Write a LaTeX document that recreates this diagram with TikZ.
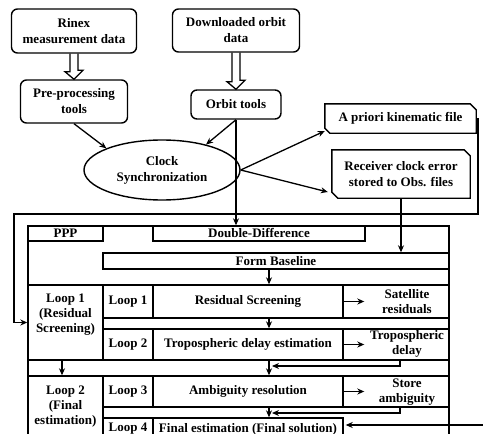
\documentclass[tikz,border=0pt]{standalone}
\usepackage{fontspec}
\setmainfont{Liberation Serif}
\usetikzlibrary{arrows.meta,shapes.geometric,calc}
\begin{document}
\begin{tikzpicture}[x=1pt,y=-1pt,
  every node/.style={font=\fontsize{13}{16}\selectfont\bfseries, inner sep=0pt, align=center},
  box/.style={draw, rounded corners=6pt, line width=1.4pt},
  cell/.style={draw, line width=1.4pt},
  ln/.style={line width=1.4pt},
  arr/.style={line width=1.3pt, -{Stealth[length=7pt,width=6pt]}},
  hollow/.style={line width=1.3pt, line join=miter},
  tab/.style={font=\fontsize{13}{15}\selectfont\bfseries}
]
\useasboundingbox (0,0) rectangle (483,434);
\clip (0,0) rectangle (483,434);
\fill[white] (0,0) rectangle (483,434);

% top boxes
\node[box, minimum width=125pt, minimum height=44pt] (rinex) at (74,31) {Rinex\\measurement data};
\node[box, minimum width=127pt, minimum height=43pt] (dl) at (236,30.5) {Downloaded orbit\\data};
\node[box, minimum width=107pt, minimum height=43pt] (pre) at (74,101.5) {Pre-processing\\tools};
\node[box, minimum width=90pt, minimum height=29pt] (orbit) at (236,104.5) {Orbit tools};
\node[draw, ellipse, line width=1.4pt, minimum width=156pt, minimum height=60pt] (clock) at (162,170) {Clock\\Synchronization};

\node[minimum width=151pt, minimum height=29pt] (apriori) at (400.5,118.5) {A priori kinematic file};
\draw[ln] (apriori.north west) -- ([xshift=-6pt]apriori.north east) -- ([yshift=-6pt]apriori.north east)
  -- (apriori.south east) -- ([xshift=5pt]apriori.south west) -- ([yshift=5pt]apriori.south west) -- cycle;
\node[minimum width=138pt, minimum height=48pt] (recv) at (401,174) {Receiver clock error\\stored to Obs. files};
\draw[ln] (recv.north west) -- ([xshift=-6pt]recv.north east) -- ([yshift=-6pt]recv.north east)
  -- (recv.south east) -- ([xshift=6pt]recv.south west) -- ([yshift=6pt]recv.south west) -- cycle;

% hollow arrows
\draw[hollow] ([xshift=-4pt]rinex.south) -- ++(0,18) -- ++(-5,0) -- (pre.north) -- ++(9,-9) -- ++(-5,0) -- ([xshift=4pt]rinex.south);
\draw[hollow] ([xshift=-4pt]dl.south) -- ++(0,29) -- ++(-5,0) -- (orbit.north) -- ++(9,-9) -- ++(-5,0) -- ([xshift=4pt]dl.south);

% main table
\node[cell, minimum width=75pt, minimum height=15pt] (ppp) at (65.5,233.5) {PPP};
\node[cell, minimum width=212pt, minimum height=15pt] (dd) at (259,233.5) {Double-Difference};
\node[cell, minimum width=346pt, minimum height=16pt] (fb) at (276,261) {Form Baseline};

\node[cell, minimum width=75pt, minimum height=75pt] (L1big) at (65.5,322.5) {};
\node[tab] (L1t) at (65.5,315) {Loop 1\\(Residual\\Screening)};
\node[cell, minimum width=50pt, minimum height=33pt] (l1) at (128,301.5) {Loop 1};
\node[cell, minimum width=190pt, minimum height=33pt] (rs) at (248,301.5) {Residual Screening};
\node[cell, minimum width=106pt, minimum height=33pt] (sr) at (396,301.5) {};
\node[tab] (srt) at (407,302) {Satellite\\residuals};

\node[cell, minimum width=50pt, minimum height=31pt] (l2) at (128,344.5) {Loop 2};
\node[cell, minimum width=190pt, minimum height=31pt] (tde) at (248,344.5) {Tropospheric delay estimation};
\node[cell, minimum width=106pt, minimum height=31pt] (td) at (396,344.5) {};
\node[tab] (tdt) at (407,344) {Tropospheric\\delay};

\node[cell, minimum width=75pt, minimum height=64pt] (L2big) at (65.5,408) {};
\node[tab] (L2t) at (65.5,407) {Loop 2\\(Final\\estimation)};
\node[cell, minimum width=50pt, minimum height=31pt] (l3) at (128,391.5) {Loop 3};
\node[cell, minimum width=190pt, minimum height=31pt] (ar) at (248,391.5) {Ambiguity resolution};
\node[cell, minimum width=106pt, minimum height=31pt] (sa) at (396,391.5) {};
\node[tab] (sat) at (407,392) {Store\\ambiguity};

\node[cell, minimum width=50pt, minimum height=22pt] (l4) at (128,429) {Loop 4};
\node[cell, minimum width=190pt, minimum height=22pt] (fe) at (248,429) {Final estimation (Final solution)};

% frame
\coordinate (fbl) at (28,440);
\coordinate (ftl) at (28,226);
\coordinate (ftr) at (449,226);
\coordinate (fbr) at (449,440);
\draw[ln] (fbl) -- (ftl) -- (ftr) -- (fbr);

% connectors top
\draw[arr] (pre.south) -- (clock.north west);
\draw[arr] (orbit.south) -- (clock.30);
\draw[arr] (orbit.south) -- (orbit.south |- dd.north);
\draw[arr] (clock.east) -- ([yshift=-12.5pt]apriori.west);
\draw[arr] (clock.east) -- ([xshift=-4pt,yshift=-18pt]recv.west);
\draw[arr] (recv.south) -- (recv.south |- fb.north);
\coordinate (c1) at (478,214);
\coordinate (c2) at (14,214);
\draw[arr] (apriori.east) -| (c1) -- (c2) |- (L1big.west);

% connectors inside table
\coordinate (ax) at (269,0);
\coordinate (bx) at (400,0);
\coordinate (lx) at (62,0);
\draw[arr] (ax |- fb.south) -- (ax |- rs.north);
\draw[arr] (ax |- rs.south) -- (ax |- tde.north);
\draw[arr] (ax |- tde.south) -- (ax |- ar.north);
\draw[arr] (ax |- ar.south) -- (ax |- fe.north);
\coordinate (t1) at (272,366);
\coordinate (t2) at (272,413);
\draw[arr] (bx |- td.south) |- (t1);
\draw[arr] (bx |- sa.south) |- (t2);
\draw[arr] (lx |- L1big.south) -- (lx |- L2big.north);
\draw[arr] ([xshift=2pt]sr.west) -- ([xshift=22pt]sr.west);
\draw[arr] ([xshift=2pt]td.west) -- ([xshift=22pt]td.west);
\draw[arr] ([xshift=2pt]sa.west) -- ([xshift=22pt]sa.west);
\coordinate (rin) at (483,425);
\draw[arr, shorten >=2pt] (rin) -- (rin -| fe.east);
\end{tikzpicture}
\end{document}
